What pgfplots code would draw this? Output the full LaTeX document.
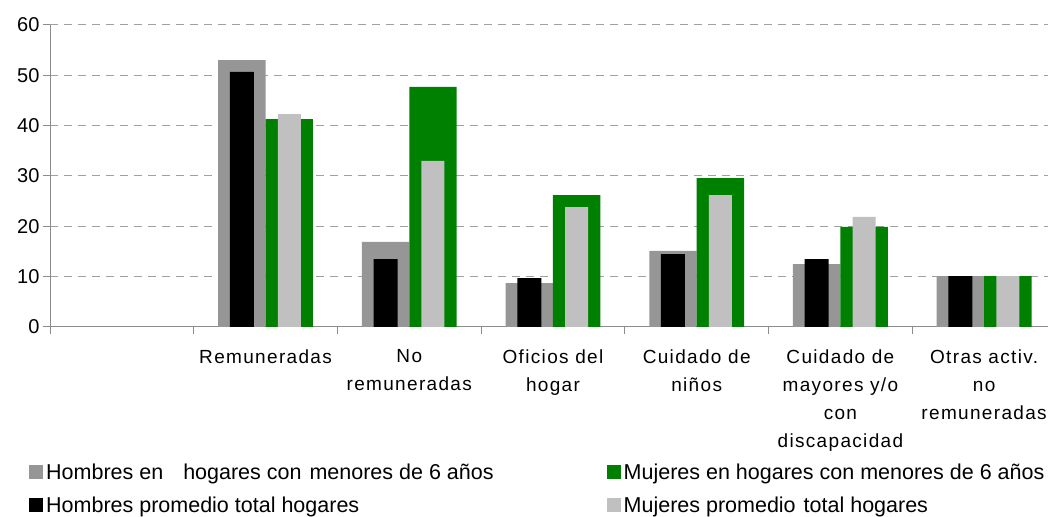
\documentclass[border=0pt]{standalone}
\usepackage{pgfplots}
\pgfplotsset{compat=1.18}
\usepackage{fontspec}
\setmainfont{Liberation Sans}
\newfontfamily\labfont[LetterSpace=7]{Liberation Sans}
\definecolor{hgray}{HTML}{969696}
\definecolor{mgreen}{HTML}{008000}
\definecolor{lgray}{HTML}{C0C0C0}
\definecolor{axgray}{HTML}{8C8C8C}
\definecolor{gridgray}{HTML}{A0A0A0}
\begin{document}
\begin{tikzpicture}
\useasboundingbox (0,0) rectangle (1048pt,516pt);
\clip (0,0) rectangle (1048pt,516pt);
\begin{axis}[
  at={(50pt,189pt)}, anchor=south west,
  scale only axis, width=1006pt, height=302pt,
  xmin=-0.5, xmax=6.5, ymin=0, ymax=60,
  ytick={0,10,...,60},
  xtick={-0.5,0.5,...,5.5}, xticklabels={},
  extra x ticks={0,1,2,3,4,5,6},
  extra x tick labels={{}, Remuneradas, No\\remuneradas, Oficios del\\hogar, Cuidado de\\niños, Cuidado de\\mayores y/o\\con\\discapacidad, Otras activ.\\no\\remuneradas},
  extra x tick style={major tick length=0pt, grid=none},
  axis x line*=bottom, axis y line*=left,
  axis line style={-, draw=axgray, line width=1pt},
  tick align=outside, major tick length=7pt,
  tick style={draw=axgray, line width=1pt},
  ymajorgrids, grid style={draw=gridgray, dash pattern=on 8pt off 6pt, line width=1pt},
  yticklabel style={font=\fontsize{20}{24}\selectfont},
  /pgf/number format/assume math mode=true,
  xticklabel style={font=\labfont\fontsize{19}{28}\selectfont, align=center, anchor=north, yshift=-19pt},
  legend columns=2,
  legend cell align=left,
  legend style={at={(axis description cs:-0.0209,-0.4503)}, anchor=north west, draw=none, fill=none, inner sep=0pt,
    font=\fontsize{21.5}{26}\selectfont,
    nodes={inner sep=0pt, text height=16pt, text depth=5pt},
    row sep=12pt,
    /tikz/every odd column/.append style={column sep=3pt},
    /tikz/every even column/.append style={column sep=113pt}},
]
\addplot[ybar, bar width=0.33, bar shift=-0.165, fill=hgray, draw=none,
  legend image code/.code={\fill[hgray] (0pt,-5.5pt) rectangle (14pt,8.5pt);}]
  coordinates {(1,53.0) (2,16.9) (3,8.7) (4,15.1) (5,12.5) (6,10.1)};
\addlegendentry{Hombres en\hspace{20pt}hogares con\hspace{8pt}menores de 6 años}
\addplot[ybar, bar width=0.33, bar shift=0.165, fill=mgreen, draw=none,
  legend image code/.code={\fill[mgreen] (0pt,-5.5pt) rectangle (14pt,8.5pt);}]
  coordinates {(1,41.3) (2,47.7) (3,26.2) (4,29.6) (5,19.9) (6,10.1)};
\addlegendentry{Mujeres en hogares con menores de 6 años}
\addplot[ybar, bar width=0.167, bar shift=-0.165, fill=black, draw=none,
  legend image code/.code={\fill[black] (0pt,-5.5pt) rectangle (14pt,8.5pt);}]
  coordinates {(1,50.7) (2,13.5) (3,9.7) (4,14.5) (5,13.5) (6,10.1)};
\addlegendentry{Hombres promedio total hogares}
\addplot[ybar, bar width=0.16, bar shift=0.165, fill=lgray, draw=none,
  legend image code/.code={\fill[lgray] (0pt,-5.5pt) rectangle (14pt,8.5pt);}]
  coordinates {(1,42.3) (2,33.0) (3,23.8) (4,26.2) (5,21.9) (6,10.1)};
\addlegendentry{Mujeres promedio\hspace{8pt}total hogares}
\end{axis}
\end{tikzpicture}
\end{document}
